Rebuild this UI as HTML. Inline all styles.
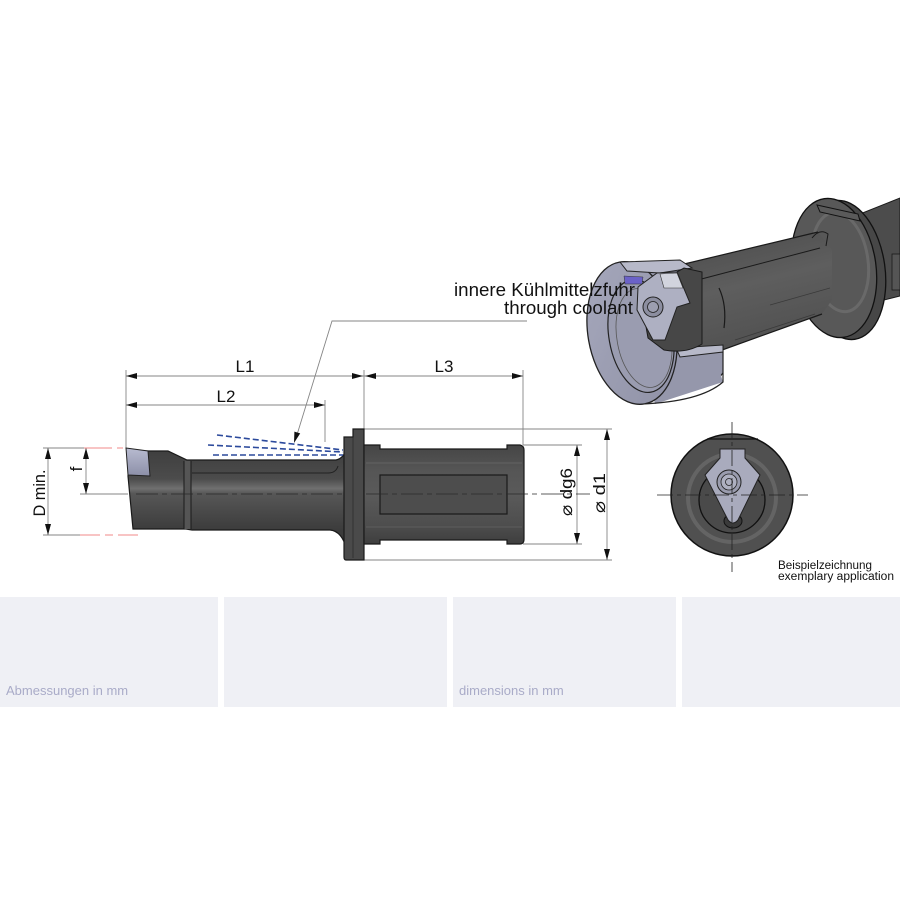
<!DOCTYPE html>
<html><head><meta charset="utf-8"><style>
html,body{margin:0;padding:0;background:#fff;}
svg{display:block;}
text{font-family:"Liberation Sans","DejaVu Sans",sans-serif;}
</style></head><body>
<svg width="900" height="900" viewBox="0 0 900 900" xmlns="http://www.w3.org/2000/svg">
<defs>
 <linearGradient id="bodyG" x1="0" y1="451" x2="0" y2="531" gradientUnits="userSpaceOnUse">
  <stop offset="0" stop-color="#3f3f3f"/>
  <stop offset="0.35" stop-color="#4c4c4c"/>
  <stop offset="0.47" stop-color="#707070"/>
  <stop offset="0.53" stop-color="#575757"/>
  <stop offset="1" stop-color="#3b3b3b"/>
 </linearGradient>
 <linearGradient id="sleeveG" x1="0" y1="445" x2="0" y2="544" gradientUnits="userSpaceOnUse">
  <stop offset="0" stop-color="#454545"/>
  <stop offset="0.25" stop-color="#555"/>
  <stop offset="0.5" stop-color="#5a5a5a"/>
  <stop offset="0.8" stop-color="#4e4e4e"/>
  <stop offset="1" stop-color="#3e3e3e"/>
 </linearGradient>
 <linearGradient id="insG" x1="0" y1="0" x2="0" y2="1">
  <stop offset="0" stop-color="#b8bbd0"/>
  <stop offset="1" stop-color="#8c8fa8"/>
 </linearGradient>
 <linearGradient id="shaftG" x1="0" y1="0" x2="0.3" y2="1">
  <stop offset="0" stop-color="#4a4a4a"/>
  <stop offset="0.5" stop-color="#5e5e5e"/>
  <stop offset="1" stop-color="#505050"/>
 </linearGradient>
 <linearGradient id="ringG" x1="0" y1="0" x2="1" y2="1">
  <stop offset="0" stop-color="#a6a8bc"/>
  <stop offset="1" stop-color="#8e90a5"/>
 </linearGradient>
 <clipPath id="ringClip">
  <path d="M560,262 L680,262 L680,346 L723,346 L723,420 L560,420 Z"/>
 </clipPath>
</defs>

<!-- ============ LEFT SIDE DRAWING ============ -->
<g stroke="#858585" stroke-width="0.9" fill="none">
 <line x1="126" y1="370" x2="126" y2="449"/>
 <line x1="364" y1="370" x2="364" y2="429"/>
 <line x1="523" y1="370" x2="523" y2="445"/>
 <line x1="325" y1="400" x2="325" y2="442"/>
 <line x1="126" y1="376" x2="523" y2="376"/>
 <line x1="126" y1="405" x2="325" y2="405"/>
 <line x1="43" y1="448" x2="84" y2="448"/>
 <line x1="43" y1="535" x2="80" y2="535"/>
 <line x1="48" y1="448" x2="48" y2="535"/>
 <line x1="86" y1="448" x2="86" y2="494"/>
 <line x1="80" y1="494" x2="128" y2="494"/>
 <line x1="523" y1="445" x2="582" y2="445"/>
 <line x1="523" y1="544" x2="582" y2="544"/>
 <line x1="364" y1="429" x2="612" y2="429"/>
 <line x1="364" y1="560" x2="612" y2="560"/>
 <line x1="577" y1="445" x2="577" y2="544"/>
 <line x1="607" y1="429" x2="607" y2="560"/>
 <polyline points="527,321 332,321 296,438"/>
</g>
<g stroke="#f08a8a" stroke-width="1" fill="none">
 <line x1="84" y1="448" x2="125" y2="448" stroke-dasharray="28 5 6 5"/>
 <line x1="80" y1="535" x2="143" y2="535" stroke-dasharray="20 5 8 5"/>
</g>
<g fill="#111">
 <polygon points="126,376 137,373 137,379"/>
 <polygon points="363,376 352,373 352,379"/>
 <polygon points="365,376 376,373 376,379"/>
 <polygon points="523,376 512,373 512,379"/>
 <polygon points="126,405 137,402 137,408"/>
 <polygon points="325,405 314,402 314,408"/>
 <polygon points="48,448 45,459 51,459"/>
 <polygon points="48,535 45,524 51,524"/>
 <polygon points="86,448 83,459 89,459"/>
 <polygon points="86,494 83,483 89,483"/>
 <polygon points="577,445 574,456 580,456"/>
 <polygon points="577,544 574,533 580,533"/>
 <polygon points="607,429 604,440 610,440"/>
 <polygon points="607,560 604,549 610,549"/>
 <polygon points="294,443 300.2,433.4 294.4,431.6"/>
</g>

<!-- tool body -->
<path d="M130,451 L168,451 L187,460 L336,460 Q345,458 347,446 L347,550 Q342,531 330,530 L192,530 L186,529 L133,529 L128,476 Z"
 fill="url(#bodyG)" stroke="#1a1a1a" stroke-width="1.2"/>
<rect x="184" y="461" width="7" height="68" fill="#555"/>
<line x1="184" y1="461" x2="184" y2="529" stroke="#1a1a1a" stroke-width="1"/>
<line x1="191" y1="461" x2="191" y2="529" stroke="#1a1a1a" stroke-width="1"/>
<path d="M192,473 L328,473 Q336,473 338,466" fill="none" stroke="#222" stroke-width="1"/>
<polygon points="126,448 148,451 150,476 128,475" fill="url(#insG)" stroke="#222" stroke-width="1"/>
<line x1="136" y1="494" x2="345" y2="494" stroke="#2a2a2a" stroke-width="0.8" stroke-dasharray="22 4 5 4"/>

<g stroke="#2c4a9c" stroke-width="1.6" stroke-dasharray="6 3" fill="none">
 <line x1="217" y1="435" x2="343" y2="450"/>
 <line x1="208" y1="445" x2="343" y2="452"/>
 <line x1="213" y1="455" x2="343" y2="455"/>
</g>

<path d="M344,437 L353,437 L353,429 L364,429 L364,560 L346,560 Q344,560 344,557 Z" fill="#4a4a4a" stroke="#1a1a1a" stroke-width="1.2"/>
<line x1="353" y1="437" x2="353" y2="558" stroke="#2a2a2a" stroke-width="0.7"/>
<path d="M364,445 L380,445 L380,449 L507,449 L507,445 L520,445 Q524,446 524,450 L524,539 Q524,544 520,544 L507,544 L507,540 L380,540 L380,544 L364,544 Z"
 fill="url(#sleeveG)" stroke="#1a1a1a" stroke-width="1.2"/>
<line x1="366" y1="463" x2="522" y2="463" stroke="#6a6a6a" stroke-width="0.8"/>
<line x1="366" y1="527" x2="522" y2="527" stroke="#656565" stroke-width="0.8"/>
<rect x="380" y="475" width="127" height="39" fill="#4d4d4d" stroke="#1a1a1a" stroke-width="1.2"/>
<line x1="366" y1="494" x2="590" y2="494" stroke="#2a2a2a" stroke-width="0.8" stroke-dasharray="22 4 5 4"/>

<g fill="#111" font-size="17">
 <text x="245" y="372" text-anchor="middle">L1</text>
 <text x="226" y="402" text-anchor="middle">L2</text>
 <text x="444" y="372" text-anchor="middle">L3</text>
 <text transform="translate(45,493) rotate(-90)" text-anchor="middle" textLength="47" lengthAdjust="spacingAndGlyphs">D min.</text>
 <text transform="translate(82,469) rotate(-90)" text-anchor="middle">f</text>
 <text transform="translate(572,492) rotate(-90)" text-anchor="middle" textLength="48" lengthAdjust="spacingAndGlyphs">⌀ dg6</text>
 <text transform="translate(605,493) rotate(-90)" text-anchor="middle" textLength="40" lengthAdjust="spacingAndGlyphs">⌀ d1</text>
</g>

<!-- ============ 3D VIEW ============ -->
<polygon points="850,218 900,198 900,296 868,304" fill="#4c4c4c" stroke="#1a1a1a" stroke-width="1"/>
<rect x="892" y="254" width="8" height="36" fill="#555" stroke="#1a1a1a" stroke-width="0.8"/>
<ellipse cx="845" cy="270" rx="40" ry="70" transform="rotate(-8 845 270)" fill="#474747" stroke="#111" stroke-width="1.3"/>
<ellipse cx="834" cy="268" rx="42" ry="70" transform="rotate(-8 834 268)" fill="#585858" stroke="#111" stroke-width="1.3"/>
<ellipse cx="840" cy="262" rx="28" ry="50" transform="rotate(-8 840 262)" fill="none" stroke="#707070" stroke-width="3" opacity="0.7"/>
<path d="M817,205 L858,214 L860,221 L820,212 Z" fill="#5a5a5a" stroke="#111" stroke-width="1"/>
<!-- main shaft -->
<polygon points="680,265 818,232 832,250 832,300 822,314 700,358" fill="url(#shaftG)"/>
<line x1="680" y1="265" x2="818" y2="232" stroke="#1a1a1a" stroke-width="1.2"/>
<line x1="700" y1="358" x2="822" y2="314" stroke="#1a1a1a" stroke-width="1.2"/>
<line x1="690" y1="282" x2="820" y2="248" stroke="#1a1a1a" stroke-width="1"/>
<path d="M812,238 Q820,228 828,234 L826,246" fill="none" stroke="#1a1a1a" stroke-width="1"/>
<path d="M719,288 Q727,305 724,328" fill="none" stroke="#1a1a1a" stroke-width="1.2"/>
<line x1="735" y1="340" x2="815" y2="314" stroke="#3a3a3a" stroke-width="0.8"/>
<line x1="770" y1="305" x2="830" y2="288" stroke="#3a3a3a" stroke-width="0.8"/>

<!-- ring -->
<g clip-path="url(#ringClip)">
 <ellipse cx="690" cy="316" rx="44" ry="72" transform="rotate(-10 690 316)" fill="#9597ab" stroke="#222" stroke-width="1.2"/>
 <polygon points="620,262 680,245 723,382 655,404" fill="#9597ab"/>
</g>
<path d="M640,404 Q700,402 723,382 L723,346" fill="none" stroke="#222" stroke-width="1.2"/>
<ellipse cx="632" cy="333" rx="44" ry="72" transform="rotate(-10 632 333)" fill="url(#ringG)" stroke="#222" stroke-width="1.3"/>
<ellipse cx="641" cy="336" rx="32" ry="57" transform="rotate(-10 641 336)" fill="#9a9cb0" stroke="#222" stroke-width="1.2"/>
<ellipse cx="644" cy="338" rx="27" ry="50" transform="rotate(-10 644 338)" fill="none" stroke="#555" stroke-width="0.8"/>
<polygon points="620,262 680,260 692,268 660,273 627,271" fill="#b7b9c9" stroke="#222" stroke-width="1"/>
<polygon points="676,348 723,345 723,352 680,357" fill="#b7b9c9" stroke="#222" stroke-width="1"/>
<path d="M640,292 L684,268 L702,272 L702,344 Q686,354 664,350 L648,338 Z" fill="#474747" stroke="#1a1a1a" stroke-width="1"/>
<polygon points="657,273 677,272 690,303 677,307 665,340 653,340 637,310 638,287" fill="#aeb0c2" stroke="#222" stroke-width="1"/>
<polygon points="660,274 677,273 683,288 664,288" fill="#d2d4de" stroke="#333" stroke-width="0.6"/>
<circle cx="653" cy="307" r="10" fill="#8c8ea0" stroke="#222" stroke-width="1"/>
<circle cx="653" cy="307" r="5.5" fill="#9c9eb0" stroke="#222" stroke-width="0.8"/>
<polygon points="624,276 643,277 642,284 625,284" fill="#6b62c8" stroke="#333" stroke-width="0.5"/>

<g fill="#111" font-size="18">
 <text x="454" y="296" textLength="181" lengthAdjust="spacingAndGlyphs">innere Kühlmittelzfuhr</text>
 <text x="504" y="314" textLength="129" lengthAdjust="spacingAndGlyphs">through coolant</text>
</g>

<!-- ============ END VIEW ============ -->
<circle cx="732" cy="495" r="61" fill="#505050" stroke="#111" stroke-width="1.5"/>
<line x1="707" y1="439" x2="758" y2="439" stroke="#111" stroke-width="1.2"/>
<circle cx="732" cy="498" r="44" fill="none" stroke="#6c6c6c" stroke-width="4" opacity="0.7"/>
<circle cx="732" cy="500" r="33" fill="#4a4a4a" stroke="#111" stroke-width="1.3"/>
<ellipse cx="733" cy="521" rx="9" ry="7" fill="#3a3a3a" stroke="#111" stroke-width="1"/>
<path d="M720,449 L745,449 L745,458 L760,475 L738,520 Q733,526 728,520 L705,475 L720,458 Z" fill="#a9abbd" stroke="#222" stroke-width="1"/>
<circle cx="729" cy="482" r="12" fill="#9a9cae" stroke="#222" stroke-width="1"/>
<circle cx="729" cy="482" r="8" fill="#aeb0c0" stroke="#222" stroke-width="0.8"/>
<circle cx="729" cy="482" r="3.5" fill="none" stroke="#222" stroke-width="0.8"/>
<g stroke="#222" stroke-width="0.8" fill="none">
 <line x1="657" y1="495" x2="808" y2="495" stroke-dasharray="16 4 4 4"/>
 <line x1="732" y1="422" x2="732" y2="572" stroke-dasharray="16 4 4 4"/>
</g>
<g fill="#111" font-size="11.5">
 <text x="778" y="569" textLength="94" lengthAdjust="spacingAndGlyphs">Beispielzeichnung</text>
 <text x="778" y="580" textLength="116" lengthAdjust="spacingAndGlyphs">exemplary application</text>
</g>

<!-- ============ BOTTOM PANELS ============ -->
<g fill="#eff0f5">
 <rect x="0" y="597" width="218" height="110"/>
 <rect x="224" y="597" width="223" height="110"/>
 <rect x="453" y="597" width="223" height="110"/>
 <rect x="682" y="597" width="218" height="110"/>
</g>
<g fill="#a9abc8" font-size="13">
 <text x="6" y="695">Abmessungen in mm</text>
 <text x="459" y="695">dimensions in mm</text>
</g>
</svg>
</body></html>
